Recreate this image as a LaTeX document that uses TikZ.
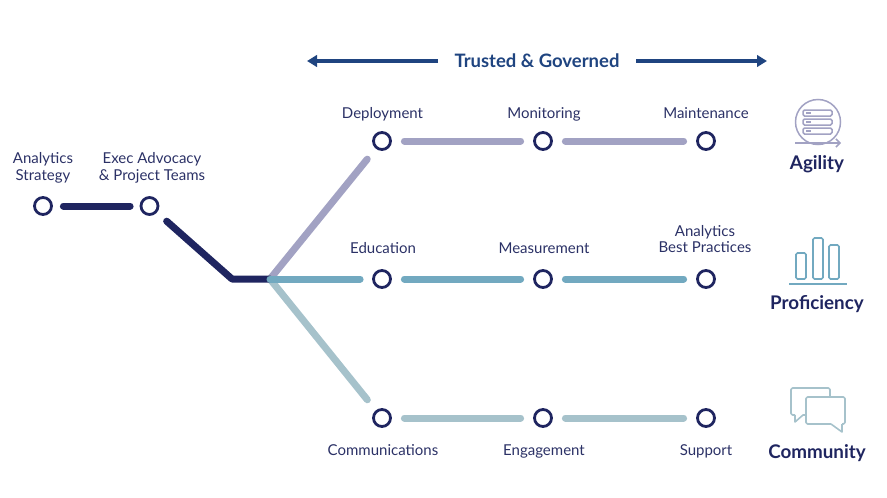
\documentclass[tikz,border=0pt]{standalone}
\usepackage{fontspec}
\setmainfont{Lato}
\usetikzlibrary{arrows.meta}
\definecolor{navy}{HTML}{1F2560}
\definecolor{txt}{HTML}{2B3166}
\definecolor{blu}{HTML}{1F4480}
\definecolor{purp}{HTML}{A2A2C3}
\definecolor{teal}{HTML}{72A9C0}
\definecolor{sage}{HTML}{A6C2CB}
\tikzset{
  x=1pt,y=-1pt,
  stop/.style={circle,draw=navy,line width=2.8pt,fill=white,minimum size=17pt,inner sep=0pt,outer sep=1.4pt},
  seg/.style={line width=7pt,line cap=round,shorten <=12.5pt,shorten >=12.5pt},
  lab/.style={text=txt,font=\fontsize{15}{16.5}\selectfont,align=center,text height=11pt,text depth=3.5pt,inner sep=0pt},
  head/.style={text=navy,font=\fontsize{18.8}{20}\selectfont\bfseries,text height=14pt,text depth=4pt,inner sep=0pt},
  garrow/.style={draw=blu,line width=3.6pt,-{Triangle[length=10pt,width=11.5pt]}},
}
\begin{document}
\begin{tikzpicture}
\useasboundingbox (0,0) rectangle (887,498);
% stops
\node[stop] (as) at (43,206) {};
\node[stop] (ex) at (149.5,206) {};
\coordinate (j1) at (232,279);
\coordinate (j2) at (270,279);
\node[stop] (d1) at (382,141) {};
\node[stop] (d2) at (543,141) {};
\node[stop] (d3) at (706,141) {};
\node[stop] (e1) at (382,279) {};
\node[stop] (e2) at (543,279) {};
\node[stop] (e3) at (706,279) {};
\node[stop] (c1) at (382,418) {};
\node[stop] (c2) at (543,418) {};
\node[stop] (c3) at (706,418) {};
% branches
\draw[seg,draw=purp,shorten <=0pt,shorten >=13.5pt] (j2) -- (d1);
\draw[seg,draw=sage,shorten <=0pt,shorten >=13.5pt] (j2) -- (c1);
\draw[navy,line width=7pt,line cap=round,line join=round,shorten <=13pt] (ex) -- (j1) -- (j2);
\draw[seg,draw=teal,shorten <=0pt,shorten >=12pt] (j2) -- (e1);
\draw[seg,draw=navy,shorten <=10.5pt,shorten >=9.5pt] (as) -- (ex);
\draw[seg,draw=purp] (d1) -- (d2);
\draw[seg,draw=purp] (d2) -- (d3);
\draw[seg,draw=teal] (e1) -- (e2);
\draw[seg,draw=teal] (e2) -- (e3);
\draw[seg,draw=sage] (c1) -- (c2);
\draw[seg,draw=sage] (c2) -- (c3);
% labels
\node[lab] (l1) at (43,176.5) {Analytics\\Strategy};
\node[lab] (l2) at (152,176.5) {Exec Advocacy\\\& Project Teams};
\node[lab] (l3) at (382.5,115) {Deployment};
\node[lab] (l4) at (544,115) {Monitoring};
\node[lab] (l5) at (706,115) {Maintenance};
\node[lab] (l6) at (383,250) {Education};
\node[lab] (l7) at (544,250) {Measurement};
\node[lab] (l8) at (705,249) {Analytics\\Best Practices};
\node[lab] (l9) at (383,452) {Communications};
\node[lab] (l10) at (544,452) {Engagement};
\node[lab] (l11) at (706,452) {Support};
% top
\node[text=blu,font=\fontsize{18.5}{20}\selectfont\bfseries] (tg) at (537,61) {Trusted \& Governed};
\coordinate (al) at (307,61);
\coordinate (ar) at (767,61);
\coordinate (as1) at (438,61);
\coordinate (ar1) at (636,61);
\draw[garrow] (as1) -- (al);
\draw[garrow] (ar1) -- (ar);
% headings
\node[head] (h1) at (817,164.5) {Agility};
\node[head] (h2) at (817,304.5) {Proficiency};
\node[head] (h3) at (817,453.5) {Community};
% agility icon
\begin{scope}[purp]
\draw[line width=1.5pt,fill=white] (818,122) circle (22.5);
\draw[line width=1.5pt,-{Straight Barb[length=4pt,width=8pt]}] (795,143) -- (841,143);
\foreach \y in {110,119,128}{
  \draw[line width=1.5pt,rounded corners=1.5pt,fill=white] (803,\y) rectangle (832,\y+6);
  \draw[line width=1.2pt] (806,\y+3) -- (811,\y+3);
}
\end{scope}
% proficiency icon
\begin{scope}[teal,line width=1.6pt]
\draw[rounded corners=1.5pt] (796,253) rectangle (806,279);
\draw[rounded corners=1.5pt] (813,238) rectangle (823,279);
\draw[rounded corners=1.5pt] (829,245) rectangle (839,279);
\draw[line width=1.7pt] (789,284) -- (847,284);
\end{scope}
% community icon
\begin{scope}[sage,line width=1.6pt,line join=round]
\draw[rounded corners=1.5pt] (830,397) -- (830,388) -- (791,388) -- (791,415) -- (795,415);
\draw (795,415) -- (795,422) -- (803,415) -- (806,415);
\draw[rounded corners=1.5pt] (831,424) -- (806,424) -- (806,397) -- (845,397) -- (845,424) -- (842,424);
\draw (831,424) -- (842,432) -- (842,424);
\end{scope}
\end{tikzpicture}
\end{document}
